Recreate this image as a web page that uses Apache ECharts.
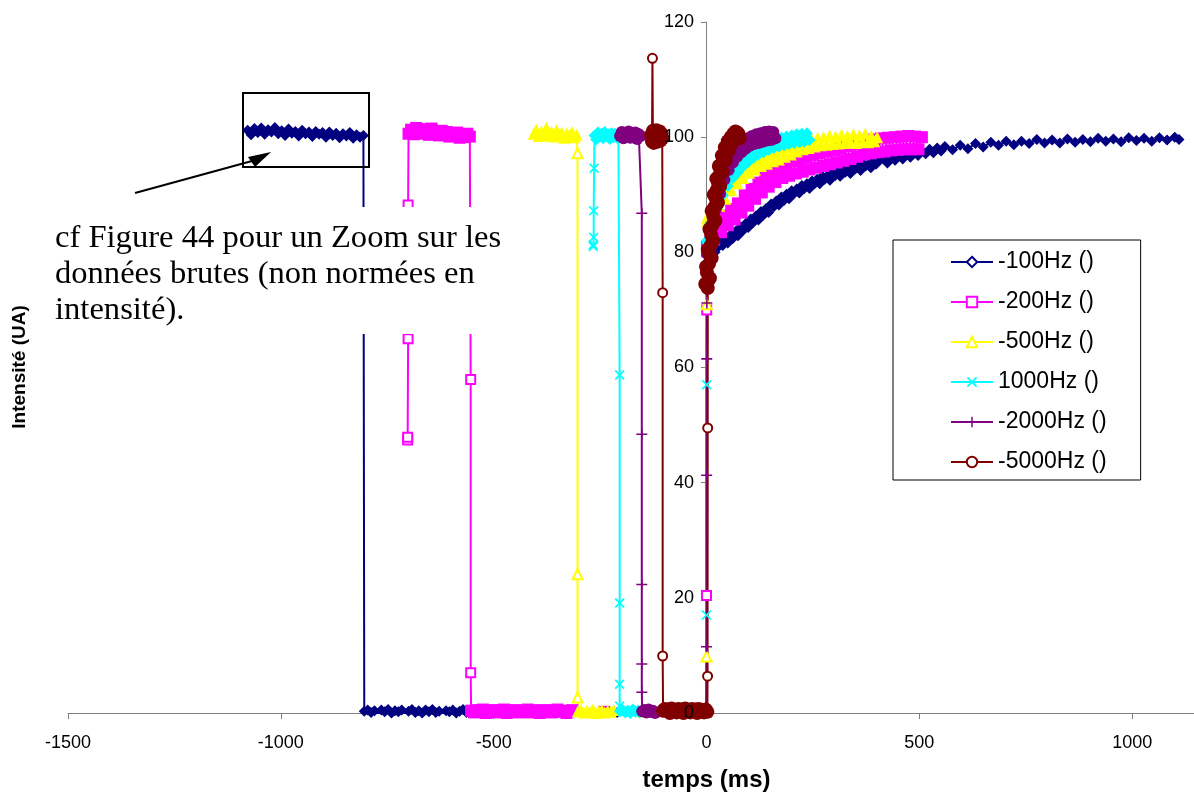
<!DOCTYPE html>
<html><head><meta charset="utf-8">
<script src="https://cdn.jsdelivr.net/npm/echarts@6/dist/echarts.min.js"></script>
<style>html,body{margin:0;padding:0;background:#fff}#c{width:1194px;height:793px}</style>
</head><body><div id="c"></div>
<script>
// ---------- data (time ms, intensity UA) ----------
const seriesNames = ['-100Hz ()', '-200Hz ()', '-500Hz ()', '1000Hz ()', '-2000Hz ()', '-5000Hz ()'];
const seriesColors = ['#000080', '#FF00FF', '#FFFF00', '#00FFFF', '#800080', '#800000'];

// -100Hz
const hz100Top = [[-1078,101.2],[-1070,100.4],[-1062,101.5],[-1054,100.8],[-1046,101.6],[-1038,100.5],[-1030,101.3],[-1022,100.9],[-1014,101.7],[-1006,100.6],[-998,101.1],[-990,100.3],[-982,101.4],[-974,100.7],[-966,101.0],[-958,100.2],[-950,101.2],[-942,100.6],[-934,100.9],[-926,100.1],[-918,101.0],[-910,100.5],[-902,100.8],[-894,100.0],[-886,100.9],[-878,100.3],[-870,100.7],[-862,99.9],[-854,100.6],[-846,100.2],[-838,100.8],[-830,99.8],[-822,100.4],[-814,100.0],[-806,100.3]];
const hz100Low = [[-804,0.3],[-796,0.5],[-788,0.1],[-780,0.4],[-772,-0.1],[-764,0.5],[-756,0.2],[-748,0.6],[-740,0.0],[-732,0.4],[-724,0.2],[-716,0.5],[-708,-0.1],[-700,0.3],[-692,0.6],[-684,0.1],[-676,0.4],[-668,0.0],[-660,0.5],[-652,0.2],[-644,0.6],[-636,0.1],[-628,0.3],[-620,-0.1],[-612,0.4],[-604,0.2],[-596,0.5],[-588,0.0],[-580,0.3],[-572,0.6],[-564,0.1],[-556,0.3],[-450,0.2],[-330,0.3],[-210,0.1],[-100,0.2],[-1,0.2]];
const hz100Rise = [[0,79.4],[8,80.2],[14,80.9],[20,80.0],[26,80.8],[32,81.9],[38,81.2],[44,82.3],[50,81.6],[56,83.0],[62,82.4],[68,83.6],[74,82.9],[80,84.4],[86,83.8],[92,85.0],[98,84.3],[104,85.8],[110,85.2],[116,86.3],[122,85.6],[128,87.1],[134,86.5],[140,87.6],[146,86.9],[152,88.4],[158,87.9],[164,88.9],[170,88.2],[176,89.6],[182,89.0],[188,90.1],[194,89.3],[200,90.7],[206,90.2],[212,91.0],[218,90.3],[224,91.6],[230,91.1],[236,91.9],[242,91.1],[248,92.4],[254,91.9],[260,92.7],[266,91.9],[272,93.2],[278,92.7],[284,93.3],[290,92.5],[296,93.8],[302,93.3],[308,94.0],[314,93.2],[320,94.4],[326,93.9],[332,94.5],[338,93.7],[344,95.0],[350,94.5],[356,94.9],[362,94.2],[368,95.4],[374,95.0],[380,95.3],[386,94.7],[392,95.8],[398,95.3],[406,95.9],[416,96.2],[425,95.5],[434,96.5],[443,96.0],[452,96.8],[461,96.2],[470,97.0],[479,96.5],[488,97.3],[497,96.8],[506,97.6],[515,97.1],[524,97.9],[533,97.3],[542,98.1],[551,97.6],[560,98.4],[578,97.8],[596,98.6],[614,98.0],[632,98.9],[650,98.3],[668,99.1],[686,98.6],[704,99.3],[722,98.7],[740,99.3],[758,98.9],[776,99.6],[794,99.0],[812,99.5],[830,99.0],[848,99.7],[866,99.1],[884,99.6],[902,99.2],[920,99.8],[938,99.3],[956,99.7],[974,99.2],[992,99.9],[1010,99.4],[1028,99.8],[1046,99.3],[1064,99.9],[1082,99.5],[1100,100.0],[1110,99.6]];

// -200Hz
const hz200Start = [[-702,47.4],[-702,47.9],[-701,65.0],[-701,88.2]];
const hz200Top = [[-700,100.6],[-694,101.3],[-688,100.5],[-682,101.6],[-676,100.9],[-670,101.4],[-664,100.6],[-658,101.2],[-652,100.4],[-646,101.5],[-640,100.8],[-634,101.0],[-628,100.3],[-622,101.1],[-616,100.5],[-610,100.9],[-604,100.1],[-598,100.7],[-592,100.2],[-586,100.8],[-580,99.9],[-574,100.5],[-568,100.0],[-562,100.6],[-556,100.1]];
const hz200Drop = [[-554,57.9],[-554,7.0]];
const hz200Low = [[-553,0.4],[-546,0.1],[-539,0.5],[-532,0.2],[-525,0.6],[-518,0.0],[-511,0.3],[-504,0.5],[-497,0.1],[-490,0.4],[-483,0.2],[-476,0.6],[-469,0.0],[-462,0.4],[-455,0.3],[-448,0.5],[-441,0.1],[-434,0.4],[-427,0.2],[-420,0.6],[-413,0.1],[-406,0.3],[-399,0.5],[-392,0.0],[-385,0.4],[-378,0.2],[-371,0.5],[-364,0.1],[-357,0.3],[-350,0.6],[-343,0.2],[-336,0.4],[-329,0.0],[-322,0.3],[-315,0.5],[-240,0.2],[-140,0.3],[-40,0.2],[-1,0.2]];
const hz200Jump = [[0,20.4],[0.5,70.0]];
const hz200Rise = [[1,81.0],[2,80.2],[10,83.6],[18,82.2],[26,85.3],[34,83.5],[42,86.4],[50,84.7],[58,87.5],[66,85.7],[74,88.5],[82,86.9],[90,89.9],[98,88.1],[106,91.0],[114,89.3],[122,92.1],[130,90.4],[138,93.2],[146,91.4],[154,94.0],[162,92.2],[170,94.9],[178,92.9],[186,95.3],[194,93.3],[202,95.8],[210,93.7],[218,96.0],[226,94.0],[234,96.5],[242,94.4],[250,96.9],[258,94.7],[266,97.2],[274,95.0],[282,97.5],[290,95.3],[298,97.7],[306,95.6],[314,98.0],[322,95.9],[330,98.4],[338,96.2],[346,98.7],[354,96.6],[362,99.1],[370,97.0],[378,99.4],[386,97.2],[394,99.6],[402,97.4],[410,99.8],[418,97.5],[426,99.9],[434,97.7],[442,100.0],[450,97.8],[458,100.1],[466,97.9],[474,100.2],[482,97.9],[490,100.1],[498,97.9],[506,100.0]];

// -500Hz
const hz500Top = [[-406,100.6],[-400,101.3],[-394,100.2],[-388,101.0],[-382,100.5],[-376,101.6],[-370,100.3],[-364,100.9],[-358,100.1],[-352,101.2],[-346,100.4],[-340,100.8],[-334,99.9],[-328,100.7],[-322,100.2],[-316,100.9],[-310,100.0],[-305,100.4]];
const hz500Drop = [[-303,97.2],[-303,24.1],[-303,2.7]];
const hz500Low = [[-302,0.3],[-295,0.5],[-288,0.1],[-281,0.4],[-274,0.2],[-267,0.6],[-260,0.0],[-253,0.3],[-246,0.5],[-239,0.1],[-232,0.4],[-225,0.2],[-218,0.5],[-150,0.2],[-60,0.3],[-1,0.2]];
const hz500Jump = [[0,9.8],[0.5,71.0]];
const hz500Rise = [[1,86.0],[2,85.4],[9,87.5],[16,86.6],[23,89.0],[30,88.1],[37,90.4],[44,89.3],[51,91.6],[58,90.8],[65,92.9],[72,92.0],[79,94.0],[86,92.9],[93,94.9],[100,93.8],[107,95.6],[114,94.4],[121,96.1],[128,95.0],[135,96.6],[142,95.4],[149,97.0],[156,95.8],[163,97.3],[170,96.1],[177,97.7],[184,96.6],[191,98.2],[198,97.0],[205,98.7],[212,97.5],[219,99.1],[226,97.9],[233,99.4],[240,98.1],[247,99.7],[254,98.4],[261,99.9],[268,98.6],[275,100.0],[282,98.7],[289,100.3],[296,98.8],[303,100.1],[310,98.9],[317,100.4],[324,99.0],[331,100.2],[338,99.1],[345,100.5],[352,99.0],[359,100.3],[366,99.2],[373,100.6],[380,99.1],[387,100.2],[394,99.3],[401,100.0]];

// 1000Hz
const hz1000Start = [[-266,81.0],[-266,81.3],[-265,82.6],[-265,87.2],[-264,94.6]];
const hz1000Top = [[-263,100.3],[-259,99.6],[-255,100.8],[-251,100.1],[-247,100.6],[-243,99.8],[-239,100.9],[-235,100.2],[-231,100.5],[-227,99.7],[-223,100.7],[-219,100.0],[-215,100.6],[-211,99.9],[-207,100.4]];
const hz1000Drop = [[-204,58.7],[-204,19.1],[-204,5.0],[-204,1.2]];
const hz1000Low = [[-203,0.3],[-197,0.5],[-191,0.1],[-185,0.4],[-179,0.0],[-173,0.6],[-167,0.2],[-161,0.4],[-157,0.1],[-80,0.2],[-1,0.2]];
const hz1000Jump = [[0,17.0],[0.5,57.0]];
const hz1000Rise = [[1,82.0],[2,81.6],[8,84.9],[14,85.1],[20,88.0],[26,87.8],[32,90.3],[38,89.9],[44,92.1],[50,91.5],[56,93.6],[62,92.9],[68,94.8],[74,93.9],[80,95.8],[86,94.9],[92,96.7],[98,95.7],[104,97.5],[110,96.4],[116,98.1],[122,97.0],[128,98.6],[134,97.4],[140,99.0],[146,97.8],[152,99.4],[158,98.1],[164,99.7],[170,98.4],[176,99.9],[182,98.6],[188,100.1],[194,98.8],[200,100.3],[206,99.0],[212,100.5],[218,99.1],[224,100.6],[230,99.2],[236,100.7],[242,99.5]];

// -2000Hz
const hz2000Top = [[-203,100.2],[-199,100.9],[-195,99.8],[-191,100.6],[-187,100.1],[-183,101.0],[-179,99.9],[-175,100.7],[-171,100.3],[-167,100.8],[-163,99.7],[-159,100.5],[-155,100.2]];
const hz2000Drop = [[-152,86.8],[-152,48.4],[-152,22.3],[-152,8.5],[-152,3.6]];
const hz2000Low = [[-151,0.3],[-146,0.5],[-141,0.1],[-136,0.6],[-131,0.2],[-126,0.4],[-121,0.0],[-60,0.2],[-1,0.2]];
const hz2000Jump = [[0,11.5],[0.3,41.3],[0.6,61.5],[0.9,71.2]];
const hz2000Rise = [[1.2,79.8],[2,80.4],[7,83.8],[12,84.3],[17,87.9],[22,87.5],[27,90.4],[32,90.2],[37,93.1],[42,92.6],[47,95.1],[52,94.3],[57,96.6],[62,95.6],[67,97.7],[72,96.6],[77,98.6],[82,97.4],[87,99.3],[92,98.0],[97,99.8],[102,98.5],[107,100.2],[112,98.8],[117,100.5],[122,99.0],[127,100.7],[132,99.2],[137,100.9],[142,99.4],[147,101.0],[152,99.5],[157,100.9],[162,99.8]];

// -5000Hz
const hz5000TopA = [[-130,100.4],[-128,99.3]];
const hz5000Spike = [[-127,113.7]];
const hz5000TopB = [[-126,101.1],[-124,99.0],[-122,100.9],[-120,99.5],[-118,101.2],[-116,99.2],[-114,100.7],[-112,99.6],[-110,101.0],[-108,99.4],[-106,100.6],[-104,99.8]];
const hz5000Drop = [[-103,73.0],[-103,9.9]];
const hz5000Low = [[-102,0.4],[-98,0.7],[-94,-0.1],[-90,0.6],[-86,0.0],[-82,0.8],[-78,-0.2],[-74,0.5],[-70,0.1],[-66,0.7],[-62,-0.1],[-58,0.6],[-54,0.0],[-50,0.8],[-46,-0.2],[-42,0.5],[-38,0.1],[-34,0.7],[-30,-0.1],[-26,0.6],[-22,0.0],[-18,0.7],[-14,-0.2],[-10,0.5],[-6,0.1],[-2,0.6],[2,0.2]];
const hz5000Jump = [[2.5,6.4],[2.8,49.5]];
const hz5000Rise = [[3,73.8],[-3,74.5],[3,75.0],[8,75.5],[1,76.5],[-1,77.5],[6,78.0],[12,79.0],[7,79.8],[3,80.5],[10,81.2],[16,82.0],[11,83.0],[7,84.0],[14,84.7],[21,85.5],[16,86.3],[12,87.2],[19,87.9],[27,88.6],[22,89.3],[17,90.0],[24,90.8],[32,91.5],[27,92.1],[23,92.8],[30,93.4],[38,94.0],[33,94.5],[29,95.0],[36,95.5],[45,96.0],[40,96.4],[36,96.8],[43,97.2],[52,97.6],[47,97.9],[43,98.2],[50,98.5],[59,98.8],[54,99.0],[50,99.3],[58,99.5],[66,99.6],[61,99.8],[57,100.0],[64,100.1],[72,100.2],[67,100.4],[63,100.6],[70,100.5],[76,100.4],[72,100.8],[68,101.0],[75,100.6],[78,99.8],[72,100.5]];

const xMin = -1500, xMax = 1500, xStep = 500;
const yMin = 0, yMax = 120, yStep = 20;

// ---------- build ----------
const X_SYM = 'path://M0,1.2L1.2,0L5,3.8L8.8,0L10,1.2L6.2,5L10,8.8L8.8,10L5,6.2L1.2,10L0,8.8L3.8,5Z';
const PLUS_SYM = 'path://M4.3,0H5.7V4.3H10V5.7H5.7V10H4.3V5.7H0V4.3H4.3Z';
const hollowSymbols = ['emptyDiamond', 'emptyRect', 'emptyTriangle', X_SYM, PLUS_SYM, 'emptyCircle'];
const hollowSizes = [10, 9, 10, 10, 11, 9];
const bandSymbols = ['diamond', 'rect', 'triangle', 'diamond', 'circle', 'circle'];
const bandSizes = [11, 12, 12, 12, 12, 14];

function band(arr, i) { return arr.map(p => ({value: p, symbol: bandSymbols[i], symbolSize: bandSizes[i]})); }
function marks(arr) { return arr.map(p => ({value: p})); }

const datasets = [
  [].concat(band(hz100Top,0), band(hz100Low,0), band(hz100Rise,0)),
  [].concat(marks(hz200Start), band(hz200Top,1), marks(hz200Drop), band(hz200Low,1), marks(hz200Jump), band(hz200Rise,1)),
  [].concat(band(hz500Top,2), marks(hz500Drop), band(hz500Low,2), marks(hz500Jump), band(hz500Rise,2)),
  [].concat(marks(hz1000Start), band(hz1000Top,3), marks(hz1000Drop), band(hz1000Low,3), marks(hz1000Jump), band(hz1000Rise,3)),
  [].concat(band(hz2000Top,4), marks(hz2000Drop), band(hz2000Low,4), marks(hz2000Jump), band(hz2000Rise,4)),
  [].concat(band(hz5000TopA,5), marks(hz5000Spike), band(hz5000TopB,5), marks(hz5000Drop), band(hz5000Low,5), marks(hz5000Jump), band(hz5000Rise,5))
];

const FONT = 'Liberation Sans';
const yLabelStyle = {fontFamily: FONT, fontSize: 18, color: '#000', margin: 12, formatter: v => String(v)};
const chart = echarts.init(document.getElementById('c'), null, {renderer: 'canvas'});
chart.setOption({
  animation: false,
  backgroundColor: '#fff',
  grid: {left: 68, right: -151, top: 22, bottom: 80, containLabel: false, outerBoundsMode: 'none'},
  xAxis: {
    type: 'value', min: xMin, max: xMax, interval: xStep,
    axisLine: {show: true, lineStyle: {color: '#808080', width: 1}},
    axisTick: {show: true, length: 6, lineStyle: {color: '#808080'}},
    axisLabel: {fontFamily: FONT, fontSize: 18, color: '#000', margin: 21, formatter: v => String(v)},
    splitLine: {show: false},
    name: 'temps (ms)', nameLocation: 'middle', nameGap: 55,
    nameTextStyle: {fontFamily: FONT, fontSize: 24, fontWeight: 'bold', color: '#000'}
  },
  yAxis: [{
    type: 'value', min: yMin, max: yMax, interval: yStep,
    position: 'left', offset: -638,
    axisLine: {show: true, onZero: false, lineStyle: {color: '#808080', width: 1}},
    axisTick: {show: true, length: 5, lineStyle: {color: '#808080'}},
    axisLabel: {show: false},
    splitLine: {show: false}
  }, {
    type: 'value', min: yMin, max: yMax, interval: yStep,
    position: 'left', offset: -638, z: 10,
    axisLine: {show: false, onZero: false},
    axisTick: {show: false},
    axisLabel: yLabelStyle,
    splitLine: {show: false}
  }],
  legend: {
    orient: 'vertical', left: 893, top: 240,
    padding: [10, 34, 6, 57], itemGap: 16, itemWidth: 42, itemHeight: 13,
    backgroundColor: '#fff', borderColor: '#000', borderWidth: 1,
    textStyle: {fontFamily: FONT, fontSize: 23, color: '#000', lineHeight: 24},
    selectedMode: false,
    data: seriesNames
  },
  series: seriesNames.map((n, i) => ({
    name: n, type: 'line', data: datasets[i], yAxisIndex: 0,
    symbol: hollowSymbols[i], symbolSize: hollowSizes[i], symbolKeepAspect: true,
    showSymbol: true, silent: true,
    lineStyle: {color: seriesColors[i], width: 2},
    itemStyle: {color: seriesColors[i]},
    emphasis: {disabled: true}
  })),
  graphic: [
    {type: 'rect', shape: {x: 45, y: 207, width: 470, height: 127}, style: {fill: '#fff'}, z: 100},
    {type: 'text', x: 55, y: 220, z: 101,
      style: {text: 'cf Figure 44 pour un Zoom sur les\ndonnées brutes (non normées en\nintensité).',
        font: '32.6px "Liberation Serif"', fill: '#000', lineHeight: 36}},
    {type: 'rect', shape: {x: 243, y: 93, width: 126, height: 74}, style: {fill: 'none', stroke: '#000', lineWidth: 2}, z: 100},
    {type: 'line', shape: {x1: 135, y1: 193, x2: 252, y2: 161}, style: {stroke: '#000', lineWidth: 2}, z: 100},
    {type: 'polygon', shape: {points: [[271, 152], [248, 157], [255, 167]]}, style: {fill: '#000'}, z: 100},
    {type: 'text', x: 20, y: 367, rotation: Math.PI / 2, z: 100,
      style: {text: 'Intensité (UA)', font: 'bold 19px "Liberation Sans"', fill: '#000', align: 'center', verticalAlign: 'middle'}}
  ]
});
</script></body></html>
